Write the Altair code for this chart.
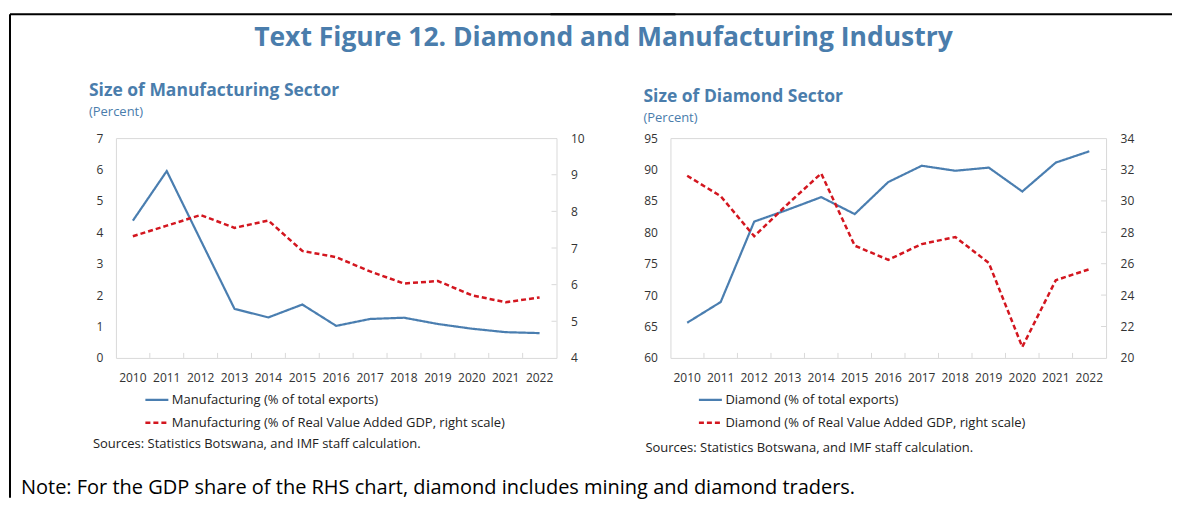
import altair as alt
import pandas as pd

# ---------------- data ----------------
years = ["2010", "2011", "2012", "2013", "2014", "2015", "2016",
         "2017", "2018", "2019", "2020", "2021", "2022"]

mfg_exports = [4.37, 5.95, 3.75, 1.56, 1.29, 1.70, 1.02, 1.24, 1.28, 1.08, 0.93, 0.82, 0.79]
mfg_gdp = [7.32, 7.61, 7.90, 7.55, 7.75, 6.92, 6.75, 6.36, 6.03, 6.10, 5.71, 5.52, 5.65]

dia_exports = [65.6, 68.9, 81.7, 83.6, 85.6, 82.9, 88.0, 90.6, 89.8, 90.3, 86.5, 91.1, 92.9]
dia_gdp = [31.6, 30.3, 27.75, 29.8, 31.75, 27.15, 26.25, 27.25, 27.7, 26.05, 20.7, 24.95, 25.65]

mfg_left_ticks = [0, 1, 2, 3, 4, 5, 6, 7]
mfg_right_ticks = [4, 5, 6, 7, 8, 9, 10]
dia_left_ticks = [60, 65, 70, 75, 80, 85, 90, 95]
dia_right_ticks = [20, 22, 24, 26, 28, 30, 32, 34]

mfg_series = ["Manufacturing (% of total exports)",
              "Manufacturing (% of Real Value Added GDP, right scale)"]
dia_series = ["Diamond (% of total exports)",
              "Diamond (% of Real Value Added GDP, right scale)"]

main_title = "Text Figure 12. Diamond and Manufacturing Industry"
mfg_title = "Size of Manufacturing Sector"
dia_title = "Size of Diamond Sector"
unit_text = "(Percent)"
sources_text = "Sources: Statistics Botswana, and IMF staff calculation."
note_text = "Note: For the GDP share of the RHS chart, diamond includes mining and diamond traders."

# ---------------- style ----------------
FONT = "Open Sans"
BLUE = "#4A7EB0"
RED = "#D3161F"
TITLE_BLUE = "#4A7DAC"
GRAY = "#D9D9D9"
TXT = "#333333"

one = pd.DataFrame({"k": [0]})


def text_layer(txt, x, y, size, color, weight="normal", align="left",
               baseline="middle"):
    return alt.Chart(pd.DataFrame({"t": [txt]})).mark_text(
        align=align, baseline=baseline, fontSize=size, fontWeight=weight,
        color=color, font=FONT
    ).encode(text="t:N", x=alt.value(x), y=alt.value(y))


def panel(key, title, series, vals_a, vals_b, ticks_a, ticks_b, W, H,
          title_xy, legend_xy, sources_xy, extra_layers):
    df_a = pd.DataFrame({"year": years, "value": vals_a, key: series[0]})
    df_b = pd.DataFrame({"year": years, "value": vals_b, key: series[1]})

    xscale = alt.Scale(type="band", paddingInner=0, paddingOuter=0, domain=years)
    xaxis = alt.Axis(title=None, ticks=False, domain=False, grid=False,
                     labelPadding=15, labelFontSize=12, labelColor=TXT,
                     labelOverlap=False, labelAngle=0)

    ys_a = alt.Scale(domain=[ticks_a[0], ticks_a[-1]], nice=False, zero=False)
    ys_b = alt.Scale(domain=[ticks_b[0], ticks_b[-1]], nice=False, zero=False)
    ax_a = alt.Axis(title=None, values=ticks_a, orient="left", ticks=False,
                    domain=False, grid=False, labelPadding=13,
                    labelFontSize=12, labelColor=TXT)
    ax_b = alt.Axis(title=None, values=ticks_b, orient="right", ticks=False,
                    domain=False, grid=False, labelPadding=14,
                    labelFontSize=12, labelColor=TXT)

    cscale = alt.Scale(domain=series, range=[BLUE, RED])
    dscale = alt.Scale(domain=series, range=[[1, 0], [5, 3]])
    leg = alt.Legend(title=None, orient="none", legendX=legend_xy[0],
                     legendY=legend_xy[1], direction="vertical",
                     symbolType="stroke", symbolSize=529,
                     symbolStrokeWidth=2.5, labelFontSize=13, labelColor="#222222",
                     labelFont=FONT, rowPadding=3, labelOffset=2, labelLimit=0)

    line_a = alt.Chart(df_a).mark_line(strokeWidth=2.2).encode(
        x=alt.X("year:O", scale=xscale, axis=xaxis, bandPosition=0.5),
        y=alt.Y("value:Q", scale=ys_a, axis=ax_a),
        color=alt.Color(f"{key}:N", scale=cscale, legend=leg),
        strokeDash=alt.StrokeDash(f"{key}:N", scale=dscale, legend=leg),
    )
    xticks = alt.Chart(pd.DataFrame({"year": years[1:]})).mark_rule(
        color=GRAY, strokeWidth=1).encode(
        x=alt.X("year:O", scale=xscale, axis=xaxis, bandPosition=0),
        y=alt.value(H), y2=alt.value(H - 5),
    )
    left_group = alt.layer(line_a, xticks)

    line_b = alt.Chart(df_b).mark_line(strokeWidth=2.5).encode(
        x=alt.X("year:O", scale=xscale, axis=xaxis, bandPosition=0.5),
        y=alt.Y("value:Q", scale=ys_b, axis=ax_b),
        color=alt.Color(f"{key}:N", scale=cscale, legend=leg),
        strokeDash=alt.StrokeDash(f"{key}:N", scale=dscale, legend=leg),
    )
    yticks = alt.Chart(pd.DataFrame({"t": ticks_b[1:-1]})).mark_rule(
        color=GRAY, strokeWidth=1).encode(
        y=alt.Y("t:Q", scale=ys_b, axis=ax_b),
        x=alt.value(W - 5), x2=alt.value(W),
    )
    right_group = alt.layer(line_b, yticks)

    texts = [
        text_layer(title, title_xy[0], title_xy[1], 17.5, TITLE_BLUE, "bold"),
        text_layer(unit_text, title_xy[0], title_xy[1] + 21, 13, TITLE_BLUE),
        text_layer(sources_text, sources_xy[0], sources_xy[1], 13, "#222222"),
    ]

    return alt.layer(left_group, right_group, *texts, *extra_layers).resolve_scale(
        y="independent"
    ).properties(width=W, height=H)


# frame of the figure and page-level texts (decorations)
frame_left = alt.Chart(one).mark_rule(color="black", strokeWidth=2).encode(
    x=alt.value(-106), y=alt.value(-124), y2=alt.value(360))
frame_top_l = alt.Chart(one).mark_rule(color="black", strokeWidth=2).encode(
    x=alt.value(-106), x2=alt.value(560), y=alt.value(-124))
frame_top_r = alt.Chart(one).mark_rule(color="black", strokeWidth=2).encode(
    x=alt.value(-120), x2=alt.value(502), y=alt.value(-124))
big_title = text_layer(main_title, 488, -100, 26.5, TITLE_BLUE, "bold", "center")
note = text_layer(note_text, -95, 356, 20, "black", baseline="alphabetic")

left = panel("mfg", mfg_title, mfg_series, mfg_exports, mfg_gdp,
             mfg_left_ticks, mfg_right_ticks, 441, 220,
             (-27, -47), (28, 249), (-23, 306),
             [frame_left, frame_top_l, big_title, note])
right = panel("dia", dia_title, dia_series, dia_exports, dia_gdp,
              dia_left_ticks, dia_right_ticks, 436, 220,
              (-27, -41), (27, 249), (-25, 310),
              [frame_top_r])

chart = alt.hconcat(left, right, spacing=114, bounds="flush").resolve_scale(
    color="independent", strokeDash="independent"
).resolve_legend(color="independent", strokeDash="independent").properties(
    padding={"left": 0, "top": 4, "right": 0, "bottom": 0}
).configure(font=FONT).configure_view(stroke=GRAY, strokeWidth=1)

chart.save("out.html", embed_options={"renderer": "svg", "actions": False})
